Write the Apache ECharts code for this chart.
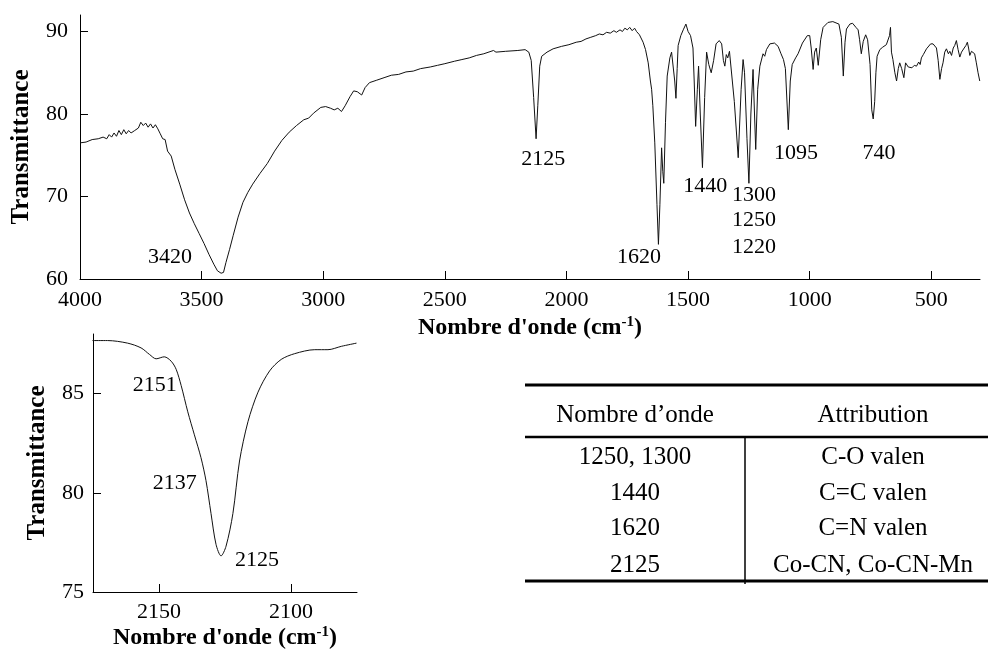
<!DOCTYPE html>
<html>
<head>
<meta charset="utf-8">
<script src="https://cdn.jsdelivr.net/npm/echarts@6/dist/echarts.min.js"></script>
<style>
html,body{margin:0;padding:0;background:#fff;}
#chart{width:988px;height:652px;}
</style>
</head>
<body>
<div id="chart"></div>
<script>
// ---------- DATA ----------
const mainWavenumber = [4000,3975,3950,3925,3905,3890,3880,3870,3860,3850,3840,3830,3820,3810,3800,3790,3775,3760,3750,3740,3730,3720,3710,3700,3690,3680,3670,3660,3650,3640,3625,3610,3590,3570,3550,3530,3510,3490,3470,3450,3435,3420,3410,3400,3385,3370,3350,3330,3310,3290,3260,3230,3200,3170,3140,3110,3080,3060,3040,3010,2990,2970,2955,2940,2925,2910,2890,2875,2860,2842,2828,2810,2780,2750,2720,2690,2660,2630,2600,2560,2530,2500,2460,2430,2400,2370,2340,2300,2290,2250,2200,2170,2155,2145,2135,2125,2118,2110,2102,2080,2055,2020,1990,1960,1940,1920,1900,1880,1865,1850,1835,1820,1805,1795,1780,1770,1760,1750,1740,1730,1720,1712,1700,1685,1675,1664,1655,1650,1645,1637,1628,1622,1616,1609,1604,1600,1593,1586,1575,1568,1562,1555,1550,1545,1541,1530,1520,1512,1509,1500,1490,1480,1475,1469,1462,1457,1450,1441,1432,1424,1415,1405,1395,1385,1372,1362,1355,1349,1343,1337,1330,1322,1310,1294,1282,1274,1268,1258,1250,1242,1233,1227,1222,1214,1205,1198,1192,1185,1178,1164,1145,1130,1118,1108,1100,1088,1080,1072,1066,1058,1048,1030,1010,1000,994,986,980,973,965,955,945,925,905,880,870,862,855,849,835,824,810,801,795,788,780,770,762,752,745,739,733,728,723,712,700,685,678,672,668,664,658,650,643,636,630,622,613,606,600,595,589,580,570,561,552,546,541,533,527,520,512,503,493,485,479,472,465,458,452,445,438,430,424,417,410,404,397,390,383,376,370,365,358,352,347,342,335,328,322,315,308,301];
const mainTransmittance = [76.5,76.6,76.9,77.0,77.2,77.0,77.5,77.2,77.7,77.3,78.0,77.5,78.1,77.6,78.0,77.7,78.0,78.3,79.0,78.6,78.9,78.4,78.8,78.3,78.7,78.2,77.6,77.0,76.9,75.5,74.9,73.3,71.5,69.6,68.0,66.7,65.5,64.3,63.0,61.8,61.0,60.7,60.8,62.0,63.6,65.3,67.5,69.3,70.5,71.5,72.8,74.0,75.5,76.8,77.8,78.6,79.3,79.5,80.1,80.8,80.9,80.7,80.5,80.7,80.3,81.0,82.1,82.8,82.7,82.3,83.2,83.8,84.1,84.4,84.7,84.8,85.1,85.2,85.5,85.7,85.9,86.1,86.4,86.6,86.8,87.1,87.3,87.7,87.5,87.6,87.7,87.8,87.5,86.5,82.0,77.0,81.0,85.8,87.0,87.5,87.9,88.2,88.4,88.7,88.8,89.1,89.3,89.5,89.7,89.6,89.9,89.8,90.1,89.9,90.2,90.0,90.4,90.2,90.5,90.1,90.4,90.0,89.6,88.7,87.8,86.2,84.0,83.0,81.0,76.5,69.0,64.2,69.0,75.9,73.0,71.6,79.0,84.6,86.8,87.5,87.3,84.0,81.9,85.5,88.3,89.5,90.2,90.0,90.9,90.0,89.5,88.0,84.0,78.5,83.0,85.8,80.0,73.5,82.0,87.5,86.0,85.0,86.5,88.5,88.9,88.5,86.5,85.8,87.2,86.8,87.6,87.5,81.5,74.7,83.0,86.6,85.0,77.0,71.6,80.0,85.4,80.0,75.7,83.0,85.8,86.0,87.3,87.0,87.8,88.5,88.6,88.2,87.3,86.6,85.5,78.1,84.0,86.0,85.8,86.8,87.3,88.6,89.5,89.5,88.0,85.4,87.5,88.0,85.9,89.0,90.5,91.1,91.2,90.9,89.3,84.6,88.7,90.3,90.9,91.0,90.5,90.2,89.0,87.3,88.8,89.6,89.0,86.0,80.5,79.4,81.5,85.0,87.0,87.8,88.1,88.4,88.5,89.5,90.5,87.5,86.6,85.0,84.0,85.5,86.2,85.5,84.4,86.2,86.4,85.7,85.6,85.6,85.9,85.8,86.3,86.0,86.8,87.2,87.0,87.9,88.0,88.5,88.5,88.3,88.0,86.5,84.2,85.5,86.2,87.5,87.9,87.3,87.6,87.1,88.0,88.3,88.9,87.8,86.9,87.5,87.5,88.0,88.3,88.7,88.0,87.1,87.6,87.5,87.3,86.2,85.0,84.0];

const insetWavenumber = [2175.2,2169.5,2161.9,2156.8,2153.6,2151.1,2148.0,2145.4,2143.5,2141.6,2139.1,2136.6,2134.1,2132.2,2130.3,2128.4,2126.5,2124.6,2122.0,2119.5,2116.3,2112.5,2108.1,2103.7,2098.6,2091.0,2086.0,2080.9,2075.2];
const insetTransmittance = [87.67,87.67,87.54,87.30,86.97,86.75,86.85,86.63,86.22,85.40,84.08,82.92,81.77,80.61,78.96,77.40,76.82,77.31,78.96,81.60,83.58,85.07,86.14,86.72,87.01,87.21,87.21,87.38,87.54];

const mainXTicks = [4000,3500,3000,2500,2000,1500,1000,500];
const mainYTicks = [60,70,80,90];
const insetXTicks = [2150,2100];
const insetYTicks = [75,80,85];

const mainPeakLabels = ['3420','2125','1620','1440','1300','1250','1220','1095','740'];
const insetPeakLabels = ['2151','2137','2125'];

const tableHeader = ['Nombre d\u2019onde','Attribution'];
const tableWavenumbers = ['1250, 1300','1440','1620','2125'];
const tableAttributions = ['C-O valen','C=C valen','C=N valen','Co-CN, Co-CN-Mn'];

const xTitle = "Nombre d'onde (cm{sup|-1})";
const yTitle = 'Transmittance';

// ---------- LAYOUT (label anchors in data units) ----------
const mainLabelPos = [[3630,62.7],[2096,74.5],[1702,62.6],[1430,71.3],[1229,70.2],[1229,67.1],[1229,63.9],[1056,75.3],[715,75.2]];
const insetLabelPos = [[2151.6,85.4],[2144.0,80.5],[2112.9,76.6]];

const FONT = '"Liberation Serif","Times New Roman",serif';
const chart = echarts.init(document.getElementById('chart'), null, {renderer:'canvas'});

function xAxisCfg(gridIndex, min, max, ticks, nameGap){
  return {
    type:'value', gridIndex, min, max, inverse:true,
    name: xTitle, nameLocation:'middle', nameGap,
    nameTextStyle:{fontFamily:FONT, fontWeight:'bold', fontSize:24, color:'#000', lineHeight:26,
      rich:{sup:{fontFamily:FONT, fontWeight:'bold', fontSize:15, color:'#000', verticalAlign:'top', lineHeight:26}}},
    axisLine:{show:true, onZero:false, lineStyle:{color:'#000', width:1}},
    axisTick:{show:true, inside:true, length:8, customValues:ticks, lineStyle:{color:'#000', width:1}},
    axisLabel:{show:true, customValues:ticks, formatter:v=>String(v), fontFamily:FONT, fontSize:22, color:'#000', margin: gridIndex===0?10:9},
    splitLine:{show:false}
  };
}
function yAxisCfg(gridIndex, min, max, ticks, nameGap){
  return {
    type:'value', gridIndex, min, max,
    name: yTitle, nameLocation:'middle', nameGap,
    nameTextStyle:{fontFamily:FONT, fontWeight:'bold', fontSize:25, color:'#000'},
    axisLine:{show:true, onZero:false, lineStyle:{color:'#000', width:1}},
    axisTick:{show:true, inside:true, length:8, customValues:ticks, lineStyle:{color:'#000', width:1}},
    axisLabel:{show:true, customValues:ticks, formatter:v=>String(v), fontFamily:FONT, fontSize:22, color:'#000', margin: gridIndex===0?12:9},
    splitLine:{show:false}
  };
}

const mainData = mainWavenumber.map((w,i)=>[w, mainTransmittance[i]]);
const insetData = insetWavenumber.map((w,i)=>[w, insetTransmittance[i]]);

function labelSeries(xi, yi, texts, pos){
  return {
    type:'scatter', xAxisIndex:xi, yAxisIndex:yi, symbol:'circle', symbolSize:1,
    itemStyle:{color:'rgba(255,255,255,0)', opacity:1}, silent:true, z:5,
    label:{show:true, position:'inside', formatter:p=>texts[p.dataIndex], fontFamily:FONT, fontSize:22, color:'#000', opacity:1, textBorderWidth:0},
    data: pos
  };
}

// table graphics
const T = {left:525, right:988, top:385, headerLine:437, bottom:581, colSplit:745, col1:635, col2:873, headY:415, rowY:[457,493,528,565]};
const graphics = [];
graphics.push({type:'line', shape:{x1:T.left,y1:T.top,x2:T.right,y2:T.top}, style:{stroke:'#000', lineWidth:3}});
graphics.push({type:'line', shape:{x1:T.left,y1:T.headerLine,x2:T.right,y2:T.headerLine}, style:{stroke:'#000', lineWidth:2.5}});
graphics.push({type:'line', shape:{x1:T.left,y1:T.bottom,x2:T.right,y2:T.bottom}, style:{stroke:'#000', lineWidth:3}});
graphics.push({type:'line', shape:{x1:T.colSplit,y1:T.headerLine,x2:T.colSplit,y2:T.bottom+3}, style:{stroke:'#000', lineWidth:1.5}});
graphics.push({type:'text', x:T.col1, y:T.headY, style:{text:tableHeader[0], font:'25px '+FONT, fill:'#000', textAlign:'center', textVerticalAlign:'middle'}});
graphics.push({type:'text', x:T.col2, y:T.headY, style:{text:tableHeader[1], font:'25px '+FONT, fill:'#000', textAlign:'center', textVerticalAlign:'middle'}});
tableWavenumbers.forEach((t,i)=>{
  graphics.push({type:'text', x:T.col1, y:T.rowY[i], style:{text:t, font:'25px '+FONT, fill:'#000', textAlign:'center', textVerticalAlign:'middle'}});
  graphics.push({type:'text', x:T.col2, y:T.rowY[i], style:{text:tableAttributions[i], font:'25px '+FONT, fill:'#000', textAlign:'center', textVerticalAlign:'middle'}});
});

chart.setOption({
  backgroundColor:'#fff',
  animation:false,
  grid:[
    {left:80, right:8, top:15, height:264},
    {left:93, top:334, width:264, height:263}
  ],
  xAxis:[ xAxisCfg(0, 300, 4000, mainXTicks, 36), xAxisCfg(1, 2075, 2175, insetXTicks, 33) ],
  yAxis:[ yAxisCfg(0, 60, 92, mainYTicks, 46), yAxisCfg(1, 75, 88, insetYTicks, 43) ],
  series:[
    {type:'line', xAxisIndex:0, yAxisIndex:0, data:mainData, showSymbol:false, symbol:'none', lineStyle:{color:'#111', width:1}, silent:true},
    {type:'line', xAxisIndex:1, yAxisIndex:1, data:insetData, showSymbol:false, symbol:'none', smooth:0.3, lineStyle:{color:'#111', width:1}, silent:true},
    labelSeries(0,0,mainPeakLabels, mainLabelPos),
    labelSeries(1,1,insetPeakLabels, insetLabelPos)
  ],
  graphic: graphics
});
</script>
</body>
</html>
